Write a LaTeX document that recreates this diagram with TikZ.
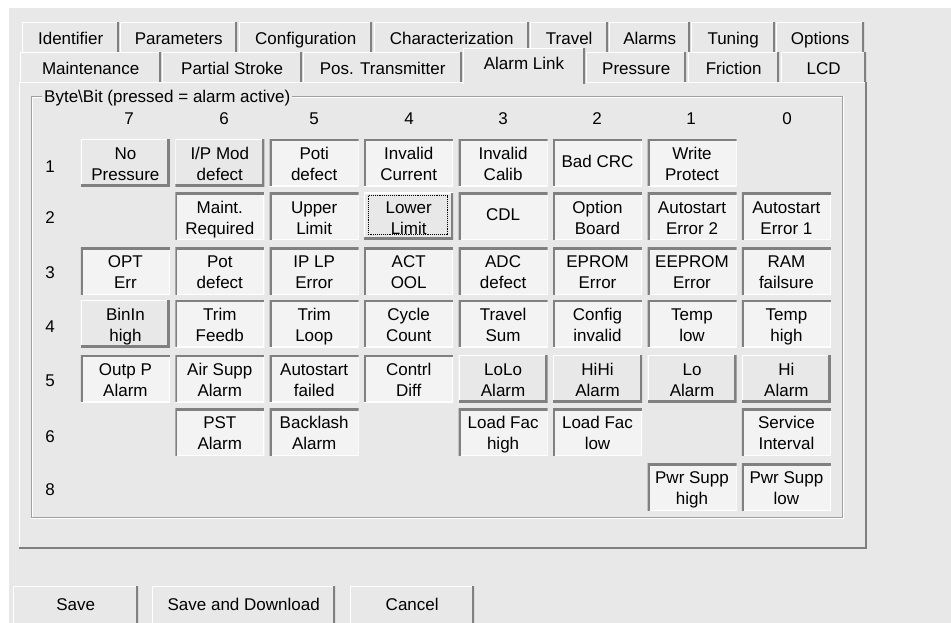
\documentclass[tikz,border=0pt]{standalone}
\usepackage{fontspec}
\setmainfont{Liberation Sans}
\usetikzlibrary{calc}
\definecolor{winbg}{RGB}{232,232,232}
\definecolor{pressbg}{RGB}{243,243,243}
\definecolor{dkedge}{RGB}{128,128,128}
\definecolor{etch}{RGB}{160,160,160}
\begin{document}
\begin{tikzpicture}[x=1pt,y=-1pt]
\tikzset{
  uifont/.style={font=\fontsize{17}{21}\selectfont},
  btnup/.style={uifont, anchor=north west, minimum width=89pt, minimum height=47pt,
    inner sep=0pt, align=center, fill=winbg, text height=35.5pt, text depth=0pt,
    path picture={
      \draw[white,line width=2pt] (path picture bounding box.south west) -- (path picture bounding box.north west) -- (path picture bounding box.north east);
      \draw[dkedge,line width=5pt] (path picture bounding box.north east) -- (path picture bounding box.south east) -- (path picture bounding box.south west);
    }},
  btndown/.style={uifont, anchor=north west, minimum width=89pt, minimum height=47pt,
    inner sep=0pt, align=center, fill=pressbg, text height=35.5pt, text depth=0pt,
    path picture={
      \draw[white,line width=2pt] (path picture bounding box.north east) -- (path picture bounding box.south east) -- (path picture bounding box.south west);
      \draw[dkedge,line width=4pt] (path picture bounding box.south west) -- (path picture bounding box.north west) -- (path picture bounding box.north east);
    }},
  oneline/.style={text height=12.5pt, text depth=3.7pt},
  cmdbtn/.style={btnup, minimum height=40pt, text height=12pt, text depth=4pt},
  tabst/.style={uifont, anchor=north west, inner sep=0pt, minimum height=32pt, fill=winbg,
    text height=14pt, text depth=2pt,
    path picture={
      \draw[white,line width=2pt] (path picture bounding box.south west) -- (path picture bounding box.north west) -- (path picture bounding box.north east);
      \draw[dkedge,line width=4pt] (path picture bounding box.north east) -- (path picture bounding box.south east);
    }},
  hdr/.style={uifont, inner sep=0pt, text height=14pt, text depth=2pt},
}
\useasboundingbox (0,0) rectangle (951,623);
\clip (0,0) rectangle (951,623);
\fill[white] (0,0) rectangle (951,623);
\fill[winbg] (9,8) rectangle (951,623);

% row 1 tabs
\node[tabst, minimum width=97pt]  (tIdent) at (22,22)  {Identifier};
\node[tabst, minimum width=117pt] (tParam) at (120,22) {Parameters};
\node[tabst, minimum width=133pt] (tConf)  at (239,22) {Configuration};
\node[tabst, minimum width=155pt] (tChar)  at (374,22) {Characterization};
\node[tabst, minimum width=78pt]  (tTrav)  at (530,22) {Travel};
\node[tabst, minimum width=81pt]  (tAlrm)  at (609,22) {Alarms};
\node[tabst, minimum width=84pt]  (tTune)  at (691,22) {Tuning};
\node[tabst, minimum width=88pt]  (tOpt)   at (776,22) {Options};
% row 2 tabs
\node[tabst, minimum width=141pt] (tMaint) at (20,52)  {Maintenance};
\node[tabst, minimum width=140pt] (tPart)  at (162,52) {Partial Stroke};
\node[tabst, minimum width=159pt] (tPos)   at (303,52) {Pos. Transmitter};
\node[tabst, minimum width=100pt] (tPres)  at (586,52) {Pressure};
\node[tabst, minimum width=91pt]  (tFric)  at (688,52) {Friction};
\node[tabst, minimum width=85pt]  (tLCD)   at (781,52) {LCD};

% panel
\fill[winbg] (19,82) rectangle (867,549);
\draw[white,line width=1.5pt] (19.5,549) -- (19.5,82.5) -- (866,82.5);
\draw[dkedge,line width=2.5pt] (866,82) -- (866,548) -- (19,548);

% selected tab
\node[tabst, minimum width=122pt, minimum height=36pt] (tLink) at (463,48) {};
\node[hdr] (tLinkTxt) at (524,64) {Alarm Link};

% group box
\draw[etch,line width=1pt] (31.5,96.5) rectangle (842.5,517.5);
\draw[white,line width=1pt] (32.5,517) -- (32.5,97.5) -- (842,97.5);
\draw[white,line width=1pt] (31,518.5) -- (843.5,518.5) -- (843.5,96);
\node[hdr, fill=winbg, inner xsep=2pt, anchor=west] (glabel) at (42,96.5) {Byte\textbackslash Bit (pressed = alarm active)};

% column headers
\node[hdr] (h7) at (129,119) {7};
\node[hdr] (h6) at (224,119) {6};
\node[hdr] (h5) at (314,119) {5};
\node[hdr] (h4) at (409,119) {4};
\node[hdr] (h3) at (503,119) {3};
\node[hdr] (h2) at (597,119) {2};
\node[hdr] (h1) at (691,119) {1};
\node[hdr] (h0) at (787,119) {0};
% row labels
\node[hdr] (r1) at (50,166) {1};
\node[hdr] (r2) at (50,217) {2};
\node[hdr] (r3) at (50,272.5) {3};
\node[hdr] (r4) at (50,326.5) {4};
\node[hdr] (r5) at (50,380) {5};
\node[hdr] (r6) at (50,436) {6};
\node[hdr] (r8) at (50,489) {8};

% row 1
\node[btnup]   (b17) at (80.7,139.3)  {No\\Pressure};
\node[btnup]   (b16) at (175.1,139.3) {I/P Mod\\defect};
\node[btndown] (b15) at (269.5,139.3) {Poti\\defect};
\node[btndown] (b14) at (364.0,139.3) {Invalid\\Current};
\node[btndown] (b13) at (458.4,139.3) {Invalid\\Calib};
\node[btndown, oneline] (b12) at (552.8,139.3) {Bad CRC};
\node[btndown] (b11) at (647.3,139.3) {Write\\Protect};
% row 2
\node[btndown] (b26) at (175.1,192.7) {Maint.\\Required};
\node[btndown] (b25) at (269.5,192.7) {Upper\\Limit};
\node[btnup]   (b24) at (364.0,192.7) {Lower\\Limit};
\node[btndown, oneline] (b23) at (458.4,192.7) {CDL};
\node[btndown] (b22) at (552.8,192.7) {Option\\Board};
\node[btndown] (b21) at (647.3,192.7) {Autostart\\Error 2};
\node[btndown] (b20) at (741.7,192.7) {Autostart\\Error 1};
\draw[densely dotted, line width=0.9pt] ($(b24.north west)+(4,3)$) rectangle ($(b24.south east)+(-6,-6)$);
% row 3
\node[btndown] (b37) at (80.7,247.3)  {OPT\\Err};
\node[btndown] (b36) at (175.1,247.3) {Pot\\defect};
\node[btndown] (b35) at (269.5,247.3) {IP LP\\Error};
\node[btndown] (b34) at (364.0,247.3) {ACT\\OOL};
\node[btndown] (b33) at (458.4,247.3) {ADC\\defect};
\node[btndown] (b32) at (552.8,247.3) {EPROM\\Error};
\node[btndown] (b31) at (647.3,247.3) {EEPROM\\Error};
\node[btndown] (b30) at (741.7,247.3) {RAM\\failsure};
% row 4
\node[btnup]   (b47) at (80.7,300)  {BinIn\\high};
\node[btndown] (b46) at (175.1,300) {Trim\\Feedb};
\node[btndown] (b45) at (269.5,300) {Trim\\Loop};
\node[btndown] (b44) at (364.0,300) {Cycle\\Count};
\node[btndown] (b43) at (458.4,300) {Travel\\Sum};
\node[btndown] (b42) at (552.8,300) {Config\\invalid};
\node[btndown] (b41) at (647.3,300) {Temp\\low};
\node[btndown] (b40) at (741.7,300) {Temp\\high};
% row 5
\node[btndown] (b57) at (80.7,355)  {Outp P\\Alarm};
\node[btndown] (b56) at (175.1,355) {Air Supp\\Alarm};
\node[btndown] (b55) at (269.5,355) {Autostart\\failed};
\node[btndown] (b54) at (364.0,355) {Contrl\\Diff};
\node[btnup]   (b53) at (458.4,355) {LoLo\\Alarm};
\node[btnup]   (b52) at (552.8,355) {HiHi\\Alarm};
\node[btnup]   (b51) at (647.3,355) {Lo\\Alarm};
\node[btnup]   (b50) at (741.7,355) {Hi\\Alarm};
% row 6
\node[btndown] (b66) at (175.1,408.3) {PST\\Alarm};
\node[btndown] (b65) at (269.5,408.3) {Backlash\\Alarm};
\node[btndown] (b63) at (458.4,408.3) {Load Fac\\high};
\node[btndown] (b62) at (552.8,408.3) {Load Fac\\low};
\node[btndown] (b60) at (741.7,408.3) {Service\\Interval};
% row 8
\node[btndown] (b81) at (647.3,463.3) {Pwr Supp\\high};
\node[btndown] (b80) at (741.7,463.3) {Pwr Supp\\low};

% command buttons
\node[cmdbtn, minimum width=125pt] (save)  at (13,586)  {Save};
\node[cmdbtn, minimum width=183pt] (saved) at (152,586) {Save and Download};
\node[cmdbtn, minimum width=124pt] (canc)  at (350,586) {Cancel};
\end{tikzpicture}
\end{document}
